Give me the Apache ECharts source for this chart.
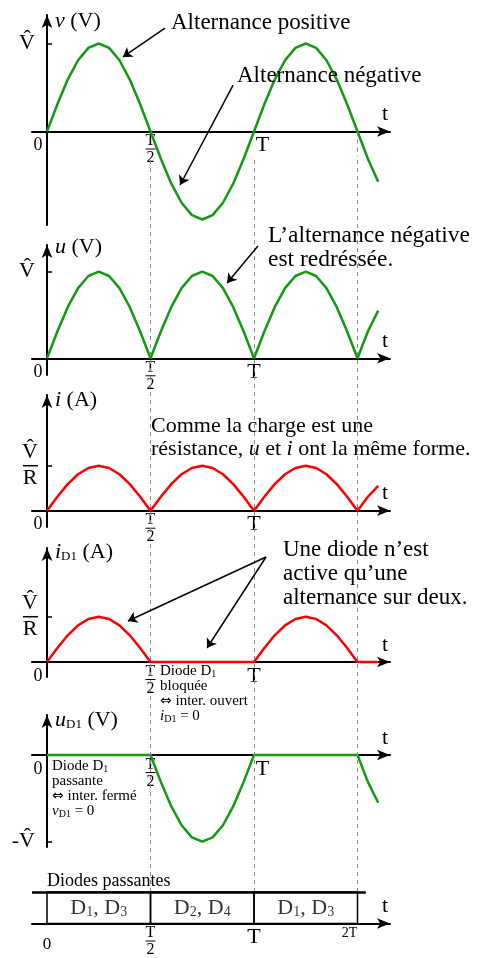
<!DOCTYPE html>
<html lang="fr">
<head>
<meta charset="UTF-8">
<title>Redressement double alternance</title>
<script src="https://cdn.jsdelivr.net/npm/echarts@6/dist/echarts.min.js"></script>
<style>
html, body { margin:0; padding:0; background:#fff; }
#chart { width:486px; height:958px; }
</style>
</head>
<body>
<div id="chart"></div>
<script>
// temps en fractions de la période T
var temps = [0,0.05,0.1,0.15,0.2,0.25,0.3,0.35,0.4,0.45,0.5,0.55,0.6,0.65,0.7,0.75,0.8,0.85,0.9,0.95,1,1.05,1.1,1.15,1.2,1.25,1.3,1.35,1.4,1.45,1.5,1.55,1.6];
// valeurs en unités de V^ (ou V^/R)
var tensionV  = [0,0.31,0.59,0.81,0.95,1,0.95,0.81,0.59,0.31,0,-0.31,-0.59,-0.81,-0.95,-1,-0.95,-0.81,-0.59,-0.31,0,0.31,0.59,0.81,0.95,1,0.95,0.81,0.59,0.31,0,-0.31,-0.57];
var tensionU  = [0,0.31,0.59,0.81,0.95,1,0.95,0.81,0.59,0.31,0,0.31,0.59,0.81,0.95,1,0.95,0.81,0.59,0.31,0,0.31,0.59,0.81,0.95,1,0.95,0.81,0.59,0.31,0,0.31,0.55];
var courantI  = [0,0.31,0.59,0.81,0.95,1,0.95,0.81,0.59,0.31,0,0.31,0.59,0.81,0.95,1,0.95,0.81,0.59,0.31,0,0.31,0.59,0.81,0.95,1,0.95,0.81,0.59,0.31,0,0.31,0.55];
var courantD1 = [0,0.31,0.59,0.81,0.95,1,0.95,0.81,0.59,0.31,0,0,0,0,0,0,0,0,0,0,0,0.31,0.59,0.81,0.95,1,0.95,0.81,0.59,0.31,0,0,0];
var tensionD1 = [0,0,0,0,0,0,0,0,0,0,0,-0.31,-0.59,-0.81,-0.95,-1,-0.95,-0.81,-0.59,-0.31,0,0,0,0,0,0,0,0,0,0,0,-0.31,-0.55];

var reperesT   = [0.5, 1, 1.5];
var ticksX     = [0, 0.5, 1];
var ticksTable = [0, 0.5, 1, 1.5];
var celDebut = [0, 0.5, 1];
var celFin   = [0.5, 1, 1.5];
var celNoms  = ['{d|D}{s|1}{d|, D}{s|3}', '{d|D}{s|2}{d|, D}{s|4}', '{d|D}{s|1}{d|, D}{s|3}'];

var serif = "'Liberation Serif','DejaVu Serif',serif";
var VH = 'V\u0302';
var vert = '#139a13', rouge = '#ff0000';
var xMin = -0.0725, xMax = 1.657, largeur = 358;

function pts(vals) {
  return temps.map(function (t, k) { return [t, vals[k]]; });
}

var frac = '{fn|T}\n{fb| }\n{fd|2}';
var labelsX = [
  ['{z|0}', frac, '{Tr|T}'],
  ['{z|0}', frac, '{T|T}'],
  ['{z|0}', frac, '{T|T}'],
  ['{z|0}', frac, '{T|T}'],
  ['{z|0}', frac, '{Tr|T}'],
  ['{zc|0}', frac, '{T|T}', '{tt|2T}']
];
var richX = {
  z:  {fontFamily:serif, fontSize:18, color:'#000', padding:[2,18,0,0]},
  zc: {fontFamily:serif, fontSize:17, color:'#000', padding:[10,0,0,0]},
  fn: {fontFamily:serif, fontSize:16, color:'#000', lineHeight:13},
  fb: {width:10, height:1, lineHeight:3, backgroundColor:'#000'},
  fd: {fontFamily:serif, fontSize:16, color:'#000', lineHeight:15},
  T:  {fontFamily:serif, fontSize:22, color:'#000'},
  Tr: {fontFamily:serif, fontSize:22, color:'#000', padding:[0,0,0,17]},
  tt: {fontFamily:serif, fontSize:14, color:'#000', padding:[0,16,0,0]}
};
var richY = {
  h:  {fontFamily:serif, fontSize:22, color:'#000'},
  yn: {fontFamily:serif, fontSize:22, color:'#000', lineHeight:22, align:'center'},
  yb: {width:15, height:1.5, lineHeight:4, backgroundColor:'#000'},
  yd: {fontFamily:serif, fontSize:22, color:'#000', lineHeight:22, align:'center'}
};
var richNom = {
  it: {fontFamily:serif, fontSize:22, fontStyle:'italic', color:'#000'},
  n:  {fontFamily:serif, fontSize:22, color:'#000'},
  sub:{fontFamily:serif, fontSize:13, color:'#000', verticalAlign:'bottom', padding:[8,0,0,0]}
};

// mise en page des panneaux
var panneaux = [
  {top:15,  height:210, min:-1.0625, max:1.324, name:'{it|v}{n| (V)}',          gap:-6, yv:[1],  yl:['{h|' + VH + '}'], ym:12},
  {top:245, height:130, min:-0.193,  max:1.308, name:'{it|u}{n| (V)}',          gap:-2, yv:[1],  yl:['{h|' + VH + '}'], ym:12},
  {top:395, height:132, min:-0.362,  max:2.571, name:'{it|i}{n| (A)}',          gap:-5, yv:[1],  yl:['{yn|' + VH + '}\n{yb| }\n{yd|R}'], ym:9},
  {top:548, height:129, min:-0.331,  max:2.517, name:'{it|i}{sub|D1}{n| (A)}',  gap:-4, yv:[1],  yl:['{yn|' + VH + '}\n{yb| }\n{yd|R}'], ym:9},
  {top:715, height:132, min:-1.061,  max:0.461, name:'{it|u}{sub|D1}{n| (V)}',  gap:-5, yv:[-1], yl:['{h|-' + VH + '}'], ym:12},
  {top:892, height:37,  min:0,       max:1}
];

var grids = [], xAxes = [], yAxes = [];
var decalY = -(0 - xMin) / (xMax - xMin) * largeur;   // axe vertical placé en t = 0
panneaux.forEach(function (p, i) {
  var ticks = i === 5 ? ticksTable : ticksX;
  var decalX = -(0 - p.min) / (p.max - p.min) * p.height; // axe horizontal placé en 0
  grids.push({left:32, width:largeur, top:p.top, height:p.height});
  xAxes.push({
    type:'value', gridIndex:i, min:xMin, max:xMax, position:'bottom', offset:decalX,
    axisLine:{onZero:false, symbol:['none','arrow'], symbolSize:[8,13], lineStyle:{color:'#000', width:2}},
    axisTick:{show:false}, splitLine:{show:false},
    axisLabel:{customValues:ticks, margin:3, color:'#000', rich:richX,
      formatter:function (v) { return labelsX[i][ticks.indexOf(v)]; }},
    name:'t', nameLocation:'end', nameGap:-5,
    nameTextStyle:{fontFamily:serif, fontSize:22, color:'#000', align:'center', verticalAlign:'bottom', padding:[0,0,6,0]}
  });
  if (i === 5) {
    yAxes.push({type:'value', gridIndex:i, min:0, max:1, show:false});
  } else {
    yAxes.push({
      type:'value', gridIndex:i, min:p.min, max:p.max, position:'left', offset:decalY,
      axisLine:{onZero:false, symbol:['none','arrow'], symbolSize:[8,13], lineStyle:{color:'#000', width:2}},
      axisTick:{show:true, inside:true, length:5, customValues:p.yv, lineStyle:{color:'#000', width:1.5}},
      axisLabel:{customValues:p.yv, margin:p.ym, color:'#000', rich:richY,
        formatter:function () { return p.yl[0]; }},
      splitLine:{show:false},
      name:p.name, nameLocation:'end', nameGap:p.gap,
      nameTextStyle:{align:'left', verticalAlign:'middle', padding:[0,0,0,8], rich:richNom}
    });
  }
});
// grille de fond pour les repères pointillés
grids.push({left:32, width:largeur, top:156, bottom:66});
xAxes.push({type:'value', gridIndex:6, min:xMin, max:xMax, show:false});
yAxes.push({type:'value', gridIndex:6, min:0, max:1, show:false});

var fleche = {silent:true, symbol:['none','arrow'], symbolSize:9, animation:false,
  label:{show:false}, lineStyle:{color:'#000', width:1.5, type:'solid'}};

function courbe(i, vals, couleur, ml) {
  var s = {type:'line', xAxisIndex:i, yAxisIndex:i, data:pts(vals), showSymbol:false,
    clip:false, lineStyle:{color:couleur, width:2.5}, z:3};
  if (ml) s.markLine = Object.assign({}, fleche, {data:ml});
  return s;
}

var pointilles = {silent:true, symbol:'none', animation:false, label:{show:false},
  lineStyle:{color:'#888', width:1, type:[4,4]}};

var series = [
  {type:'scatter', xAxisIndex:6, yAxisIndex:6, data:[[0.5,0]], symbolSize:0, z:1,
    markLine:Object.assign({}, pointilles, {data:reperesT.map(function (v) { return {xAxis:v}; })})},
  {type:'scatter', xAxisIndex:0, yAxisIndex:0, data:[[1.5,0]], symbolSize:0, z:1,
    markLine:Object.assign({}, pointilles, {data:[[{coord:[1.5,0]},{coord:[1.5,-0.28]}]]})},
  courbe(0, tensionV, vert, [
    [{coord:[0.570,1.176]},{coord:[0.367,0.847]}],
    [{coord:[0.899,0.528]},{coord:[0.643,-0.608]}]
  ]),
  courbe(1, tensionU, vert, [
    [{coord:[1.019,1.297]},{coord:[0.870,0.870]}]
  ]),
  courbe(2, courantI, rouge),
  courbe(3, courantD1, rouge, [
    [{coord:[1.058,2.318]},{coord:[0.391,0.905]}],
    [{coord:[1.058,2.318]},{coord:[0.773,0.309]}]
  ]),
  courbe(4, tensionD1, vert),
  {type:'scatter', xAxisIndex:5, yAxisIndex:5, symbolSize:0, z:4,
    data:celDebut.map(function (d, k) { return [(d + celFin[k]) / 2, 0.5]; }),
    label:{show:true, position:'inside', formatter:function (p) { return celNoms[p.dataIndex]; },
      rich:{d:{fontFamily:serif, fontSize:22, color:'#000'},
            s:{fontFamily:serif, fontSize:14, color:'#000', verticalAlign:'bottom', padding:[9,0,0,0]}}},
    markArea:{silent:true, animation:false, label:{show:false},
      itemStyle:{color:'rgba(0,0,0,0)', borderColor:'#000', borderWidth:1.5},
      data:celDebut.map(function (d, k) { return [{xAxis:d, yAxis:0}, {xAxis:celFin[k], yAxis:1}]; })},
    markLine:{silent:true, symbol:'none', animation:false, label:{show:false},
      lineStyle:{color:'#000', width:2.5, type:'solid'},
      data:[[{coord:[-0.0725,1]},{coord:[1.54,1]}]]}
  }
];

var txt = {fontFamily:serif, fontSize:23, fill:'#000', lineHeight:24, verticalAlign:'top',
  rich:{it:{fontFamily:serif, fontSize:23, fontStyle:'italic', fill:'#000'}}};
var txt22 = Object.assign({}, txt, {fontSize:22, lineHeight:23,
  rich:{it:{fontFamily:serif, fontSize:22, fontStyle:'italic', fill:'#000'}}});
var petit = {fontFamily:serif, fontSize:15, fill:'#000', lineHeight:15, verticalAlign:'top',
  rich:{it:{fontFamily:serif, fontSize:15, fontStyle:'italic', fill:'#000'},
        ar:{fontFamily:"'DejaVu Sans'", fontSize:14, fill:'#000'},
        sub:{fontFamily:serif, fontSize:10, fill:'#000', verticalAlign:'bottom', padding:[5,0,0,0]}}};

function texte(x, y, t, st) {
  return {type:'text', x:x, y:y, z:10, style:Object.assign({}, st || txt, {text:t})};
}

var graphic = [
  texte(171, 11, 'Alternance positive'),
  texte(237, 64, 'Alternance négative'),
  texte(268, 224, 'L’alternance négative\nest redréssée.', Object.assign({}, txt, {fontSize:23.5})),
  texte(151, 415, 'Comme la charge est une\nrésistance, {it|u} et {it|i} ont la même forme.', txt22),
  texte(283, 538, 'Une diode n’est\nactive qu’une\nalternance sur deux.'),
  texte(47, 869, 'Diodes passantes', Object.assign({}, txt, {fontSize:18})),
  texte(160, 664, 'Diode D{sub|1}\nbloquée\n{ar|⇔} inter. ouvert\n{it|i}{sub|D1} = 0', petit),
  texte(52, 759, 'Diode D{sub|1}\npassante\n{ar|⇔} inter. fermé\n{it|v}{sub|D1} = 0', petit)
];

var chart = echarts.init(document.getElementById('chart'));
chart.setOption({
  animation:false,
  backgroundColor:'#fff',
  grid:grids, xAxis:xAxes, yAxis:yAxes,
  series:series,
  graphic:graphic
});
</script>
</body>
</html>
